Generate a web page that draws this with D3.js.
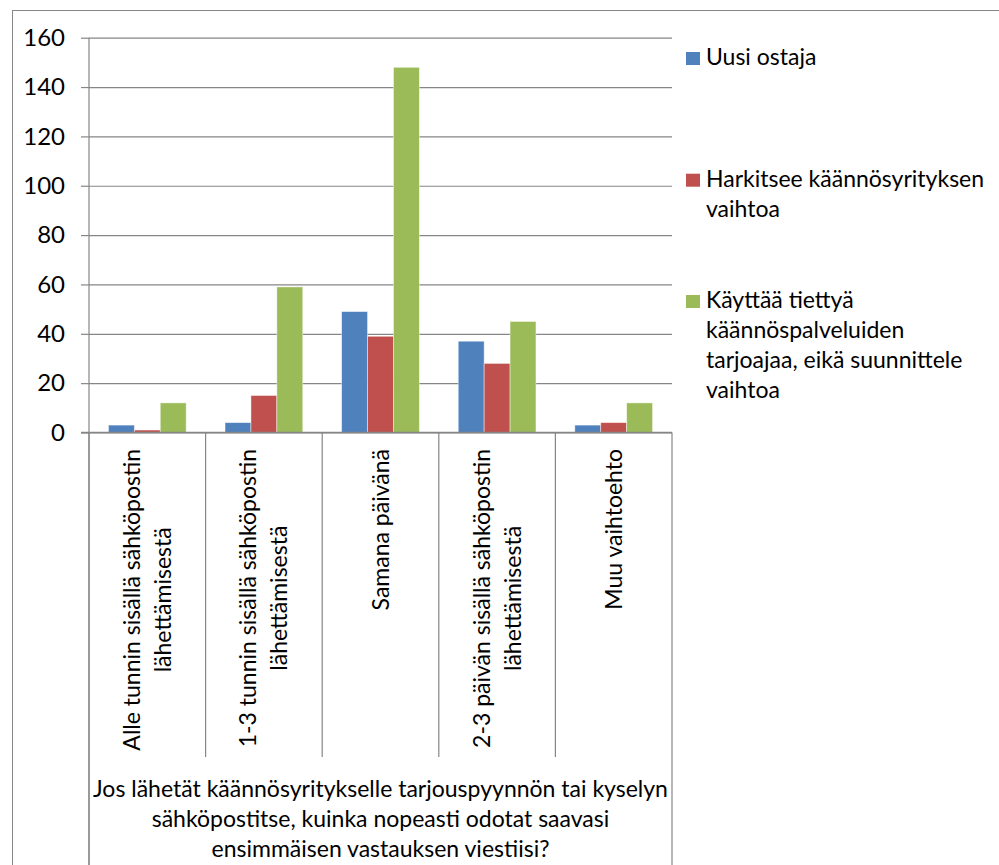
<!DOCTYPE html>
<html>
<head>
<meta charset="utf-8">
<script src="https://cdn.jsdelivr.net/npm/d3@7"></script>
<style>
  html, body { margin: 0; padding: 0; background: #fff; }
  svg { display: block; }
  text { font-family: Lato, "Open Sans", sans-serif; fill: #000; }
</style>
</head>
<body>
<svg id="chart" width="999" height="865"></svg>
<script>
const categories = [
  ["Alle tunnin sisällä sähköpostin", "lähettämisestä"],
  ["1-3 tunnin sisällä sähköpostin", "lähettämisestä"],
  ["Samana päivänä"],
  ["2-3 päivän sisällä sähköpostin", "lähettämisestä"],
  ["Muu vaihtoehto"]
];
const seriesNames = [
  ["Uusi ostaja"],
  ["Harkitsee käännösyrityksen", "vaihtoa"],
  ["Käyttää tiettyä", "käännöspalveluiden", "tarjoajaa, eikä suunnittele", "vaihtoa"]
];
const uusiOstaja = [3, 4, 49, 37, 3];
const harkitsee = [1, 15, 39, 28, 4];
const kayttaa = [12, 59, 148, 45, 12];
const seriesColors = ["#4F81BD", "#C0504D", "#9BBB59"];
const yTicks = [0, 20, 40, 60, 80, 100, 120, 140, 160];
const axisTitle = [
  "Jos lähetät käännösyritykselle tarjouspyynnön tai kyselyn",
  "sähköpostitse, kuinka nopeasti odotat saavasi",
  "ensimmäisen vastauksen viestiisi?"
];

(function () {
const series = [uusiOstaja, harkitsee, kayttaa];
const svg = d3.select("#chart");
const gray = "#868686";
const fs = 23;

// outer chart border
svg.append("rect").attr("x", 12.5).attr("y", 10.5).attr("width", 1000).attr("height", 900)
  .attr("fill", "none").attr("stroke", gray).attr("stroke-width", 1);

const pLeft = 89, pRight = 672, pTop = 37.7, pBottom = 432.5;
const catIdx = categories.map((d, i) => i);
const x = d3.scaleBand().domain(catIdx).range([pLeft, pRight]).padding(0);
const xs = d3.scaleBand().domain([0, 1, 2]).range([0, x.bandwidth()]).paddingInner(0).paddingOuter(0.75);
const y = d3.scaleLinear().domain([0, 160]).range([pBottom, pTop]);

// y axis with gridlines
const yAxis = d3.axisLeft(y).tickValues(yTicks).tickSize(8).tickPadding(16).tickFormat(d3.format("d"));
const yg = svg.append("g").attr("transform", `translate(${pLeft},0)`).call(yAxis);
yg.select(".domain").remove();
yg.selectAll(".tick line").attr("stroke", gray).attr("stroke-width", 1.2);
yg.selectAll(".tick text").attr("font-size", 24).attr("font-family", "Lato, sans-serif").attr("fill", "#000");
yg.selectAll(".tick").append("line")
  .attr("x1", 0).attr("x2", pRight - pLeft).attr("stroke", gray).attr("stroke-width", 1.2);

// bars
const bars = svg.append("g");
series.forEach((vals, s) => {
  bars.selectAll(null).data(vals).enter().append("rect")
    .attr("x", (d, i) => x(i) + xs(s))
    .attr("width", xs.bandwidth())
    .attr("y", d => y(d))
    .attr("height", d => y(0) - y(d))
    .attr("fill", seriesColors[s])
    .attr("stroke", "rgba(255,255,255,0.55)")
    .attr("stroke-width", 0.8);
});

// vertical axis line
svg.append("line").attr("x1", pLeft).attr("x2", pLeft).attr("y1", pTop).attr("y2", 866)
  .attr("stroke", gray).attr("stroke-width", 1.2);
// horizontal axis line
svg.append("line").attr("x1", pLeft - 8).attr("x2", pRight).attr("y1", pBottom).attr("y2", pBottom)
  .attr("stroke", gray).attr("stroke-width", 1.5);
// category dividers
const bounds = catIdx.map(i => x(i)).concat([pRight]);
bounds.forEach((b, i) => {
  const full = (i === 0 || i === bounds.length - 1);
  svg.append("line").attr("x1", b).attr("x2", b).attr("y1", pBottom).attr("y2", full ? 866 : 757)
    .attr("stroke", gray).attr("stroke-width", 1.2);
});

// category labels (rotated)
const lineGap = 31;
categories.forEach((lines, i) => {
  const cx = x(i) + x.bandwidth() / 2;
  const g = svg.append("g");
  const texts = lines.map((t, j) => g.append("text").text(t).attr("font-size", fs));
  const lens = texts.map(t => t.node().getComputedTextLength());
  const L = d3.max(lens);
  const blockTop = 449;
  const centerY = blockTop + L / 2;
  texts.forEach((t, j) => {
    const lx = cx + (j - (lines.length - 1) / 2) * lineGap;
    t.attr("text-anchor", "middle").attr("dy", "0.35em")
      .attr("transform", `translate(${lx},${centerY}) rotate(-90)`);
  });
});

// axis title
axisTitle.forEach((t, j) => {
  svg.append("text").text(t).attr("x", (pLeft + pRight) / 2).attr("y", 796.7 + j * 30)
    .attr("text-anchor", "middle").attr("font-size", fs);
});

// legend
const legendY = [65, 186.7, 308];
seriesNames.forEach((lines, s) => {
  svg.append("rect").attr("x", 686).attr("y", legendY[s] - 13).attr("width", 14).attr("height", 13)
    .attr("fill", seriesColors[s]);
  lines.forEach((t, j) => {
    svg.append("text").text(t).attr("x", 706).attr("y", legendY[s] + j * 30).attr("font-size", fs);
  });
});
})();
</script>
</body>
</html>
